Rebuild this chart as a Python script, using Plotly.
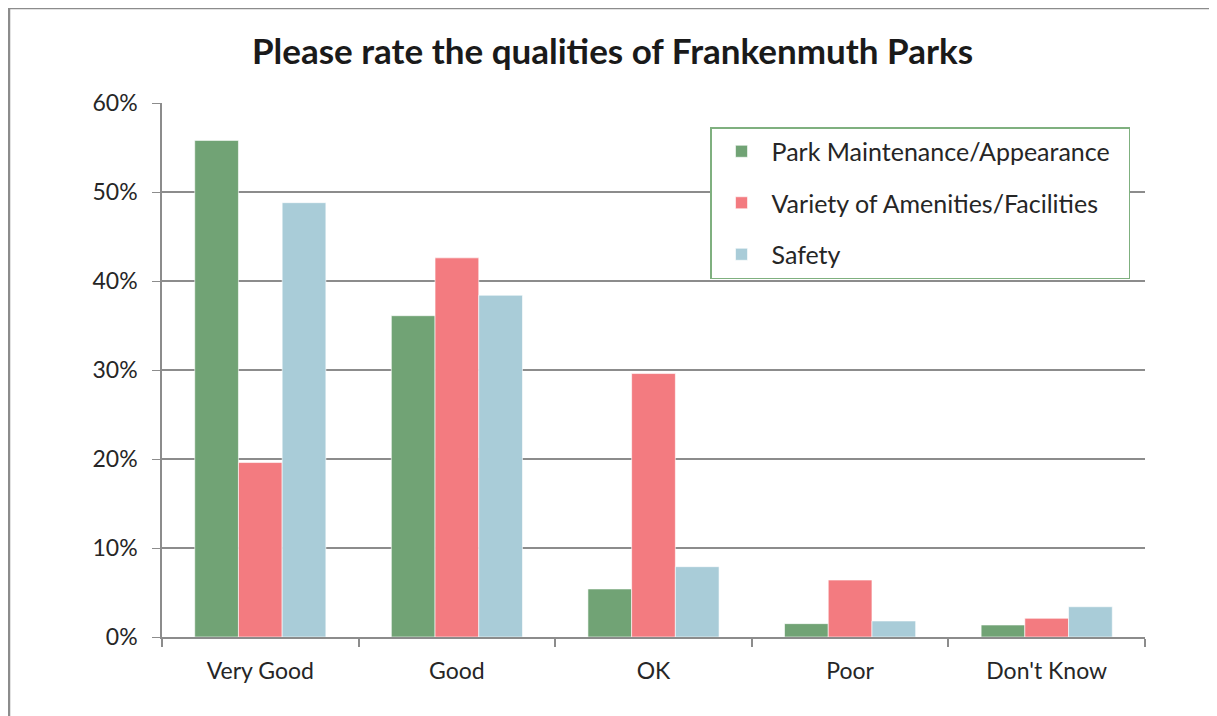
import plotly.graph_objects as go

categories = ["Very Good", "Good", "OK", "Poor", "Don't Know"]
maintenance = [55.8, 36.1, 5.4, 1.5, 1.35]
amenities = [19.6, 42.6, 29.6, 6.4, 2.1]
safety = [48.8, 38.4, 7.9, 1.8, 3.4]

series = [
    ("Park Maintenance/Appearance", maintenance, "#71A375"),
    ("Variety of Amenities/Facilities", amenities, "#F37B80"),
    ("Safety", safety, "#A9CCD8"),
]

fig = go.Figure()
for name, vals, color in series:
    fig.add_trace(go.Bar(
        x=categories, y=[v / 100 for v in vals], name=name + "&nbsp;&nbsp;",
        marker=dict(color=color, line=dict(color="white", width=0.6)),
        legendgroup=name,
    ))

# page adds an 8px body margin, so the figure is sized 8px smaller
font_family = "Lato, 'Open Sans', sans-serif"
fig.update_layout(
    width=1209, height=708,
    barmode="group", bargap=0.333, bargroupgap=0,
    paper_bgcolor="white", plot_bgcolor="white",
    font=dict(family=font_family, color="#262626", size=23),
    title=dict(text="<b>Please rate the qualities of Frankenmuth Parks</b>",
               x=0.5, xref="container", y=0.938, yanchor="middle",
               font=dict(size=35, color="#1a1a1a")),
    margin=dict(l=154, r=72, t=95, b=79),
    xaxis=dict(showgrid=False, showline=True, linecolor="#8c8c8c", linewidth=2,
               ticks="outside", tickson="boundaries", ticklen=8, tickcolor="#8c8c8c",
               tickwidth=1.5, tickfont=dict(size=23), ticklabelstandoff=12),
    yaxis=dict(range=[0, 0.6], dtick=0.1, tickformat=".0%", showgrid=True,
               gridcolor="#8c8c8c", gridwidth=1.5, showline=True, linecolor="#8c8c8c",
               linewidth=1.5, ticks="outside", ticklen=8, tickcolor="#8c8c8c",
               tickfont=dict(size=23), zeroline=False, ticklabelstandoff=10),
    legend=dict(x=0.5575, y=0.955, xanchor="left", yanchor="top",
                bgcolor="white", bordercolor="#7fb07f", borderwidth=1.5,
                font=dict(size=25), tracegroupgap=16, itemwidth=50),
    shapes=[dict(type="rect", xref="paper", yref="paper",
                 x0=-153 / 983, x1=1.2, y0=-0.5, y1=(708 - 79) / 534,
                 line=dict(color="#8c8c8c", width=2.5), layer="below")],
)

fig.write_html("out.html")
